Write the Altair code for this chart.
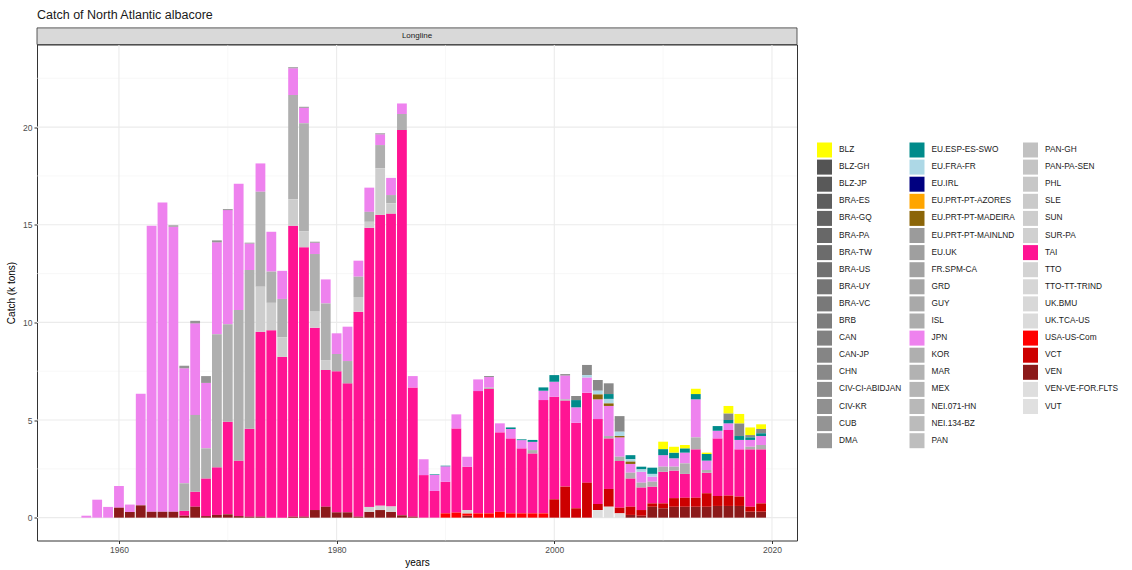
import altair as alt
import pandas as pd

FONT = "Liberation Sans"

years = list(range(1957, 2020))

# Longline albacore catches by flag, thousand tonnes, one value per year 1957-2019
tai = [0, 0, 0,
       0, 0, 0, 0, 0, 0, 0.25, 0.77, 1.93, 2.44,
       4.74, 2.84, 4.50, 9.47, 9.60, 8.24, 14.90, 13.80, 9.34, 7.00,
       7.23, 6.61, 10.50, 14.30, 14.90, 15.00, 19.73, 6.62, 2.18, 1.37,
       1.62, 4.31, 2.22, 6.26, 6.38, 4.07, 3.84, 3.33, 3.07, 5.80,
       5.25, 4.41, 4.38, 4.61, 4.35, 2.59, 2.39, 1.45, 1.16, 0.86,
       1.62, 1.41, 1.22, 2.48, 1.05, 2.95, 3.36, 2.42, 2.94, 2.77]
jpn = [0.10, 0.92, 0.55,
       1.11, 0.38, 5.72, 14.65, 15.84, 14.60, 5.89, 4.69, 3.35, 4.71,
       5.85, 6.47, 1.36, 1.45, 2.04, 1.44, 1.37, 0.79, 0.58, 1.23,
       1.06, 1.76, 0.82, 1.24, 0.55, 0.88, 0.54, 0.58, 0.81, 0.82,
       0.79, 0.72, 0.51, 0.60, 0.54, 0.46, 0.48, 0.42, 0.42, 0.48,
       0.77, 1.22, 0.79, 0.78, 1.01, 1.54, 0.99, 0.45, 0.56, 0.26,
       0.59, 0.43, 0.55, 1.95, 0.48, 0.39, 0.34, 0.48, 0.35, 0.46]
kor = [0, 0, 0,
       0, 0, 0, 0, 0, 0, 1.41, 3.93, 1.54, 6.81,
       4.99, 7.71, 8.13, 4.86, 1.60, 1.96, 5.34, 5.55, 2.95, 2.90,
       0.88, 1.14, 1.04, 0.51, 1.19, 0.42, 0.82, 0, 0, 0,
       0, 0, 0, 0, 0.06, 0, 0, 0, 0.17, 0,
       0, 0.06, 0, 0, 0, 0.12, 0.22, 0.29, 0.24, 0.25,
       0.26, 0.20, 0.54, 0.61, 0.14, 0, 0, 0, 0.13, 0.22]
ven = [0, 0, 0,
       0.51, 0.29, 0.63, 0.30, 0.30, 0.30, 0.10, 0.56, 0.08, 0.14,
       0.17, 0.08, 0.05, 0.05, 0, 0, 0.05, 0.05, 0.39, 0.56,
       0.27, 0.27, 0.05, 0.30, 0.39, 0.30, 0.12, 0.05, 0, 0,
       0, 0, 0.10, 0, 0, 0, 0, 0, 0, 0,
       0, 0, 0, 0, 0, 0, 0, 0.14, 0.10, 0.56,
       0.48, 0.56, 0.56, 0.56, 0.56, 0.60, 0.60, 0.60, 0.31, 0.31]

# smaller fleets: years with catch, and the catch in those years
sun_years = [1973, 1974, 1975, 1976, 1977, 1978, 1979, 1982, 1983, 1984, 1985]
sun_catch = [2.31, 1.40, 1.00, 1.35, 0.80, 0.82, 0.51, 0.75, 0.30, 2.38, 0.53]

vct_years = list(range(2000, 2020))
vct_catch = [0.94, 1.59, 0.48, 1.79, 0.31, 0.91, 0.29, 0.42, 0.29, 0.17,
             0.25, 0.44, 0.46, 0.46, 0.69, 0.51, 0.53, 0.48, 0.25, 0.42]

usa_years = list(range(1990, 2000))
usa_catch = [0.22, 0.26, 0.12, 0.22, 0.22, 0.30, 0.22, 0.22, 0.22, 0.22]

tto_years = [1983, 1984, 1985, 1992]
tto_catch = [0.25, 0.22, 0.27, 0.17]

venff_years = [2004, 2005, 2006]
venff_catch = [0.39, 0.56, 0.22]

cub_years = [1965, 1966, 1967, 1968, 1969, 1970, 1972, 1976, 1977, 1978, 1984]
cub_catch = [0.07, 0.13, 0.13, 0.35, 0.10, 0.05, 0.04, 0.05, 0.05, 0.05, 0.05]

chn_years = [1994, 2001, 2002, 2003, 2004, 2005, 2006, 2016, 2017, 2018, 2019]
chn_catch = [0.05, 0.07, 0.21, 0.52, 0.55, 0.55, 0.80, 0.34, 0.65, 0.12, 0.22]

esp_years = [1989, 1990, 1996, 1997, 1998, 1999, 2000, 2002, 2005, 2007, 2008,
             2009, 2010, 2011, 2012, 2013, 2014, 2015, 2016, 2017, 2018, 2019]
esp_catch = [0.03, 0.03, 0.08, 0.04, 0.10, 0.17, 0.34, 0.37, 0.25, 0.21, 0.14,
             0.32, 0.31, 0.29, 0.22, 0.27, 0.34, 0.24, 0.17, 0.20, 0.13, 0.14]

fra_years = [2003, 2004, 2005, 2006, 2007, 2008, 2009]
fra_catch = [0.12, 0.19, 0.23, 0.22, 0.12, 0.12, 0.14]

madeira_years = [2004, 2005, 2006, 2007]
madeira_catch = [0.25, 0.13, 0.07, 0.12]

blz_years = [2010, 2011, 2012, 2013, 2014, 2016, 2017, 2018, 2019]
blz_catch = [0.38, 0.30, 0.17, 0.27, 0.07, 0.38, 0.48, 0.39, 0.24]

# fleet codes in legend order (the first one sits on top of each stack)
fleets = ["BLZ", "BLZ-GH", "BLZ-JP", "BRA-ES", "BRA-GQ", "BRA-PA", "BRA-TW",
          "BRA-US", "BRA-UY", "BRA-VC", "BRB", "CAN", "CAN-JP", "CHN",
          "CIV-CI-ABIDJAN", "CIV-KR", "CUB", "DMA",
          "EU.ESP-ES-SWO", "EU.FRA-FR", "EU.IRL", "EU.PRT-PT-AZORES",
          "EU.PRT-PT-MADEIRA", "EU.PRT-PT-MAINLND", "EU.UK", "FR.SPM-CA", "GRD",
          "GUY", "ISL", "JPN", "KOR", "MAR", "MEX", "NEI.071-HN", "NEI.134-BZ",
          "PAN",
          "PAN-GH", "PAN-PA-SEN", "PHL", "SLE", "SUN", "SUR-PA", "TAI", "TTO",
          "TTO-TT-TRIND", "UK.BMU", "UK.TCA-US", "USA-US-Com", "VCT", "VEN",
          "VEN-VE-FOR.FLTS", "VUT"]

highlight = {
    "BLZ": "#FFFF00",
    "EU.ESP-ES-SWO": "#008B8B",
    "EU.FRA-FR": "#ADD8E6",
    "EU.IRL": "#000080",
    "EU.PRT-PT-AZORES": "#FFA500",
    "EU.PRT-PT-MADEIRA": "#8B6508",
    "JPN": "#EE82EE",
    "TAI": "#FF1493",
    "USA-US-Com": "#FF0000",
    "VCT": "#CD0000",
    "VEN": "#8B1A1A",
}


def grey_ramp(n, start=0.33, end=0.88, gamma=1.7):
    out = []
    for i in range(n):
        t = i / (n - 1)
        v = (start ** gamma + (end ** gamma - start ** gamma) * t) ** (1 / gamma)
        g = int(round(v * 255))
        out.append(f"#{g:02x}{g:02x}{g:02x}")
    return out


greys = iter(grey_ramp(sum(f not in highlight for f in fleets)))
fleet_colors = [highlight[f] if f in highlight else next(greys) for f in fleets]

# Legend fills three columns of 18 rows; two blank entries pad the last column
legend_domain = fleets + [" ", "  "]
legend_colors = fleet_colors + ["#FFFFFF", "#FFFFFF"]

rows = []
dense = {"TAI": tai, "JPN": jpn, "KOR": kor, "VEN": ven}
for fleet, vals in dense.items():
    for y, v in zip(years, vals):
        if v > 0:
            rows.append((y, fleet, v))
sparse = {
    "SUN": (sun_years, sun_catch),
    "VCT": (vct_years, vct_catch),
    "USA-US-Com": (usa_years, usa_catch),
    "TTO": (tto_years, tto_catch),
    "VEN-VE-FOR.FLTS": (venff_years, venff_catch),
    "CUB": (cub_years, cub_catch),
    "CHN": (chn_years, chn_catch),
    "EU.ESP-ES-SWO": (esp_years, esp_catch),
    "EU.FRA-FR": (fra_years, fra_catch),
    "EU.PRT-PT-MADEIRA": (madeira_years, madeira_catch),
    "BLZ": (blz_years, blz_catch),
}
for fleet, (ys, vs) in sparse.items():
    for y, v in zip(ys, vs):
        rows.append((y, fleet, v))

df = pd.DataFrame(rows, columns=["year", "fleet", "catch"])
df["rank"] = df["fleet"].map({f: i for i, f in enumerate(fleets)})

W, H = 760, 496
xscale = alt.Scale(domain=[1952.47, 2022.3], nice=False, zero=False)
yscale = alt.Scale(domain=[-1.17, 24.23], nice=False, zero=False)

y_major = [0, 5, 10, 15, 20]
y_minor = [2.5, 7.5, 12.5, 17.5, 22.5]
x_major = [1960, 1980, 2000, 2020]
x_minor = [1970, 1990, 2010]

x_axis = alt.Axis(values=x_major, format="d", title="years", grid=False,
                  domain=False, tickColor="#333333", tickSize=3,
                  labelFont=FONT, labelFontSize=8.5, labelColor="#4D4D4D",
                  labelPadding=2, titleFont=FONT, titleFontSize=10,
                  titleFontWeight="normal", titleColor="#000000", titlePadding=3)
y_axis = alt.Axis(values=y_major, title="Catch (k tons)", grid=False,
                  domain=False, tickColor="#333333", tickSize=3,
                  labelFont=FONT, labelFontSize=8.5, labelColor="#4D4D4D",
                  labelPadding=2, titleFont=FONT, titleFontSize=10,
                  titleFontWeight="normal", titleColor="#000000", titlePadding=6)

grid_y_minor = alt.Chart(pd.DataFrame({"v": y_minor})).mark_rule(
    color="#F3F3F3", strokeWidth=0.55).encode(
    y=alt.Y("v:Q", scale=yscale, axis=y_axis))
grid_x_minor = alt.Chart(pd.DataFrame({"v": x_minor})).mark_rule(
    color="#F3F3F3", strokeWidth=0.55).encode(
    x=alt.X("v:Q", scale=xscale, axis=x_axis))
grid_y_major = alt.Chart(pd.DataFrame({"v": y_major})).mark_rule(
    color="#EBEBEB", strokeWidth=1.07).encode(
    y=alt.Y("v:Q", scale=yscale, axis=y_axis))
grid_x_major = alt.Chart(pd.DataFrame({"v": x_major})).mark_rule(
    color="#EBEBEB", strokeWidth=1.07).encode(
    x=alt.X("v:Q", scale=xscale, axis=x_axis))

bars = alt.Chart(df).transform_stack(
    stack="catch", groupby=["year"], as_=["c0", "c1"],
    sort=[alt.SortField("rank", order="descending")],
).transform_calculate(
    x0="datum.year - 0.45", x1="datum.year + 0.45"
).mark_bar(strokeWidth=0).encode(
    x=alt.X("x0:Q", scale=xscale, axis=x_axis),
    x2="x1:Q",
    y=alt.Y("c0:Q", scale=yscale, axis=y_axis),
    y2="c1:Q",
    color=alt.Color("fleet:N",
                    scale=alt.Scale(domain=legend_domain, range=legend_colors),
                    legend=alt.Legend(title=None, orient="none", legendX=780,
                                      legendY=98, columns=3, symbolType="square",
                                      symbolSize=225, symbolStrokeWidth=0,
                                      symbolLimit=100,
                                      labelFont=FONT, labelFontSize=8.3,
                                      labelColor="#1A1A1A", columnPadding=7.5,
                                      rowPadding=2.1, labelOffset=7, padding=0,
                                      gridAlign="each", labelLimit=200)),
)

strip_df = pd.DataFrame({"panel": ["Longline"]})
strip = alt.Chart(strip_df).mark_rect(fill="#D9D9D9", stroke="#333333",
                                      strokeWidth=0.8).encode(
    x=alt.value(0), x2=alt.value(W), y=alt.value(-16.6), y2=alt.value(0))
strip_text = alt.Chart(strip_df).mark_text(font=FONT, fontSize=8,
                                           color="#1A1A1A").encode(
    x=alt.value(W / 2), y=alt.value(-8.3), text="panel:N")

chart = alt.layer(
    grid_y_minor, grid_x_minor, grid_y_major, grid_x_major, bars, strip, strip_text
).properties(
    width=W, height=H,
    title=alt.TitleParams("Catch of North Atlantic albacore", anchor="start",
                          frame="group", font=FONT, fontSize=12.5,
                          fontWeight="normal", color="#1A1A1A", offset=6),
    autosize=alt.AutoSizeParams(type="none"),
    padding={"left": 37, "top": 44.5, "right": 335, "bottom": 29.5},
).configure_view(stroke="#333333", strokeWidth=1)

chart.save("out.html", embed_options={"renderer": "svg", "actions": False})
